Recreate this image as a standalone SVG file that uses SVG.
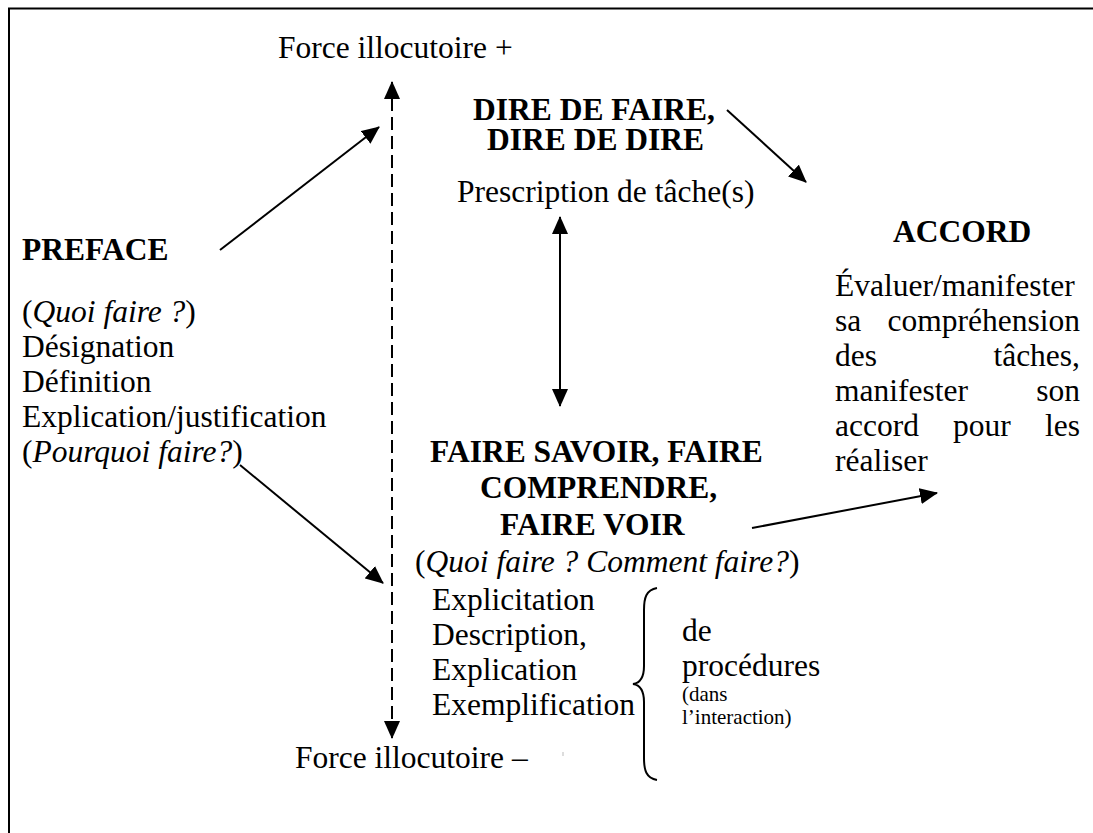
<svg xmlns="http://www.w3.org/2000/svg" width="1093" height="833" viewBox="0 0 1093 833">
<defs>
<marker id="ah" markerUnits="userSpaceOnUse" markerWidth="18" markerHeight="16" viewBox="0 0 18 16" refX="17" refY="8" orient="auto">
<path d="M0,0 L18,8 L0,16 Z" fill="#000"/>
</marker>
<marker id="ahs" markerUnits="userSpaceOnUse" markerWidth="18" markerHeight="16" viewBox="0 0 18 16" refX="1" refY="8" orient="auto">
<path d="M18,0 L0,8 L18,16 Z" fill="#000"/>
</marker>
</defs>
<style>
text{font-family:"Liberation Serif","Times New Roman",serif;font-size:31.5px;fill:#000}
.b{font-weight:bold}
.i{font-style:italic}
.s{font-size:21px}
.ln{stroke:#000;stroke-width:2;fill:none}
</style>
<rect width="1093" height="833" fill="#fff"/>
<g id="frame">
<path d="M9,833 L9,8.5 L1093,8.5" stroke="#000" stroke-width="2" fill="none"/>
</g>
<g id="connectors">
<line class="ln" x1="392" y1="738" x2="392" y2="82" stroke-dasharray="13 6" marker-start="url(#ahs)" marker-end="url(#ah)"/>
<line class="ln" x1="220" y1="250" x2="379" y2="127" marker-end="url(#ah)"/>
<line class="ln" x1="240" y1="465" x2="383" y2="583" marker-end="url(#ah)"/>
<line class="ln" x1="560" y1="217" x2="560" y2="406" marker-start="url(#ahs)" marker-end="url(#ah)"/>
<line class="ln" x1="727" y1="110" x2="806" y2="182" marker-end="url(#ah)"/>
<line class="ln" x1="752" y1="528" x2="937" y2="493" marker-end="url(#ah)"/>
</g>
<g id="force-plus"><text x="278" y="58">Force illocutoire +</text></g>
<g id="force-minus"><text x="295" y="768">Force illocutoire –</text></g>
<g id="dire">
<text class="b" x="473" y="120">DIRE DE FAIRE,</text>
<text class="b" x="487" y="150">DIRE DE DIRE</text>
<text x="457" y="202">Prescription de tâche(s)</text>
</g>
<g id="preface">
<text class="b" x="22" y="260">PREFACE</text>
<text x="22" y="322">(<tspan class="i">Quoi faire ?</tspan>)</text>
<text x="22" y="357">Désignation</text>
<text x="22" y="392">Définition</text>
<text x="22" y="427">Explication/justification</text>
<text x="22" y="462">(<tspan class="i">Pourquoi faire?</tspan>)</text>
</g>
<g id="accord">
<text class="b" x="893" y="242">ACCORD</text>
<text x="835" y="296">Évaluer/manifester</text>
<text x="835" y="331">sa</text><text x="1080" y="331" text-anchor="end">compréhension</text>
<text x="835" y="366">des</text><text x="1080" y="366" text-anchor="end">tâches,</text>
<text x="835" y="401">manifester</text><text x="1080" y="401" text-anchor="end">son</text>
<text x="835" y="436">accord</text><text x="953" y="436">pour</text><text x="1080" y="436" text-anchor="end">les</text>
<text x="835" y="471">réaliser</text>
</g>
<g id="faire">
<text class="b" x="430" y="462">FAIRE SAVOIR, FAIRE</text>
<text class="b" x="480" y="498">COMPRENDRE,</text>
<text class="b" x="500" y="535">FAIRE VOIR</text>
<text x="415" y="572">(<tspan class="i">Quoi faire ? Comment faire?</tspan>)</text>
<text x="432" y="610">Explicitation</text>
<text x="432" y="645">Description,</text>
<text x="432" y="680">Explication</text>
<text x="432" y="715">Exemplification</text>
</g>
<g id="procedures">
<path class="ln" d="M657,588 C646,590 644,598 644,610 L644,666 C644,678 640,683 633,684 C640,685 644,690 644,702 L644,758 C644,770 646,778 657,780" stroke-width="1.5"/>
<text x="682" y="641">de</text>
<text x="682" y="676">procédures</text>
<text class="s" x="682" y="701">(dans</text>
<text class="s" x="682" y="724">l’interaction)</text>
</g>
<line x1="563" y1="752" x2="563" y2="756" stroke="#bbb" stroke-width="1"/>
</svg>
